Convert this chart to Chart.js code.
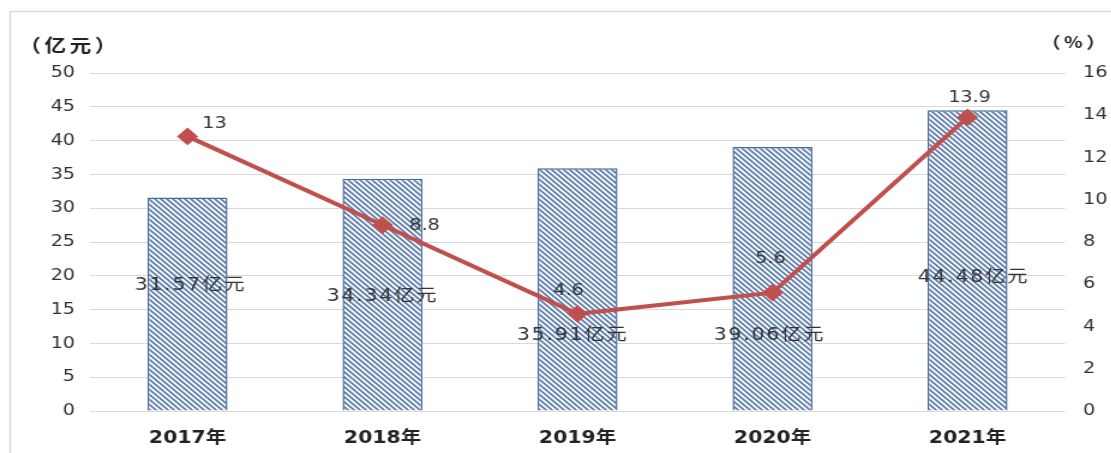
<!DOCTYPE html>
<html>
<head>
<meta charset="utf-8">
<script src="https://cdn.jsdelivr.net/npm/chart.js@4"></script>
<style>
  html, body { margin: 0; padding: 0; background: #fff; overflow: hidden; }
  #wrap { position: absolute; left: 0; top: 0; width: 926px; height: 453px; transform: scaleX(1.2); transform-origin: 0 0; }
</style>
</head>
<body>
<div id="wrap"><canvas id="incomeChart" width="926" height="453"></canvas></div>
<script>
// 数据
var years = ['2017年', '2018年', '2019年', '2020年', '2021年'];
var income = [31.57, 34.34, 35.91, 39.06, 44.48];   // 亿元
var growth = [13, 8.8, 4.6, 5.6, 13.9];            // %
var incomeLabels = ['31.57亿元', '34.34亿元', '35.91亿元', '39.06亿元', '44.48亿元'];
var growthLabels = ['13', '8.8', '4.6', '5.6', '13.9'];

var cjk = '"DejaVu Sans", "Noto Sans CJK SC", sans-serif';

// 斜线填充
function hatch() {
  var c = document.createElement('canvas');
  c.width = 5; c.height = 5;
  var g = c.getContext('2d');
  g.fillStyle = '#fff';
  g.fillRect(0, 0, 5, 5);
  g.strokeStyle = '#5b7caa';
  g.lineWidth = 1.7;
  g.beginPath();
  g.moveTo(0, 0); g.lineTo(5, 5);
  g.moveTo(-1, 4); g.lineTo(1, 6);
  g.moveTo(4, -1); g.lineTo(6, 1);
  g.stroke();
  return g.createPattern(c, 'repeat');
}

var extras = {
  id: 'extras',
  beforeDraw: function (chart) {
    var ctx = chart.ctx;
    ctx.save();
    ctx.strokeStyle = '#d9d9d9';
    ctx.lineWidth = 1.5;
    ctx.beginPath();
    ctx.moveTo(8.5, 460); ctx.lineTo(8.5, 11.5); ctx.lineTo(930, 11.5);
    ctx.stroke();
    ctx.fillStyle = '#222';
    ctx.textAlign = 'center';
    ctx.textBaseline = 'middle';
    ctx.letterSpacing = '3px';
    ctx.font = 'bold 18px "Noto Sans CJK SC", sans-serif';
    ctx.fillText('（亿元）', 58, 45);
    ctx.font = 'bold 16px "Noto Sans CJK SC", sans-serif';
    ctx.fillText('（%）', 896, 42);
    ctx.restore();
  },
  afterDraw: function (chart) {
    var ctx = chart.ctx;
    var y = chart.scales.y;
    var bars = chart.getDatasetMeta(0).data;
    var pts = chart.getDatasetMeta(1).data;
    var barLevel = [18.6, 16.9, 11.2, 11.2, 19.8];
    var barDx = [2.5, 0, -4, -2.5, 5];
    var lineOff = [[22.5, -13], [35, 1], [-7.5, -23], [-1.7, -34], [1.7, -20]];
    ctx.save();
    ctx.fillStyle = '#333';
    ctx.textAlign = 'center';
    ctx.textBaseline = 'middle';
    ctx.font = '17px ' + cjk;
    ctx.letterSpacing = '1.5px';
    bars.forEach(function (b, i) {
      ctx.fillText(incomeLabels[i], b.x + barDx[i], y.getPixelForValue(barLevel[i]));
    });
    ctx.letterSpacing = '0px';
    ctx.font = '16px ' + cjk;
    pts.forEach(function (p, i) {
      ctx.fillText(growthLabels[i], p.x + lineOff[i][0], p.y + lineOff[i][1]);
    });
    ctx.restore();
  }
};

var ctx = document.getElementById('incomeChart').getContext('2d');
var incomeChart = new Chart(ctx, {
  type: 'bar',
  data: {
    labels: years,
    datasets: [{
      type: 'bar',
      label: '收入',
      data: income,
      yAxisID: 'y',
      backgroundColor: hatch(),
      borderColor: '#4a6b98',
      borderWidth: 1.5,
      barPercentage: 0.41,
      categoryPercentage: 1,
      order: 1
    }, {
      type: 'line',
      label: '增速',
      data: growth,
      yAxisID: 'y1',
      borderColor: '#c0504d',
      backgroundColor: '#c0504d',
      borderWidth: 4,
      pointStyle: 'rectRot',
      pointRadius: 6,
      tension: 0,
      order: 0
    }]
  },
  options: {
    responsive: false,
    animation: false,
    devicePixelRatio: 1,
    layout: { padding: { top: 73, bottom: 0, left: 0, right: 0 } },
    plugins: { legend: { display: false }, tooltip: { enabled: false } },
    scales: {
      x: {
        grid: { display: false },
        border: { display: false },
        ticks: { color: '#222', padding: 9, font: { family: cjk, size: 17, weight: 'bold' } },
        afterFit: function (s) { s.height = 42; }
      },
      y: {
        position: 'left',
        min: 0, max: 50,
        ticks: { stepSize: 5, color: '#333', padding: 12.5, font: { family: cjk, size: 16 } },
        grid: { color: '#d9d9d9', lineWidth: 1, drawTicks: false },
        border: { display: false },
        afterFit: function (s) { s.width = 75; }
      },
      y1: {
        position: 'right',
        min: 0, max: 16,
        ticks: { stepSize: 2, color: '#333', padding: 15, font: { family: cjk, size: 16 } },
        grid: { display: false, drawTicks: false },
        border: { display: false },
        afterFit: function (s) { s.width = 38.5; }
      }
    }
  },
  plugins: [extras]
});
</script>
</body>
</html>
